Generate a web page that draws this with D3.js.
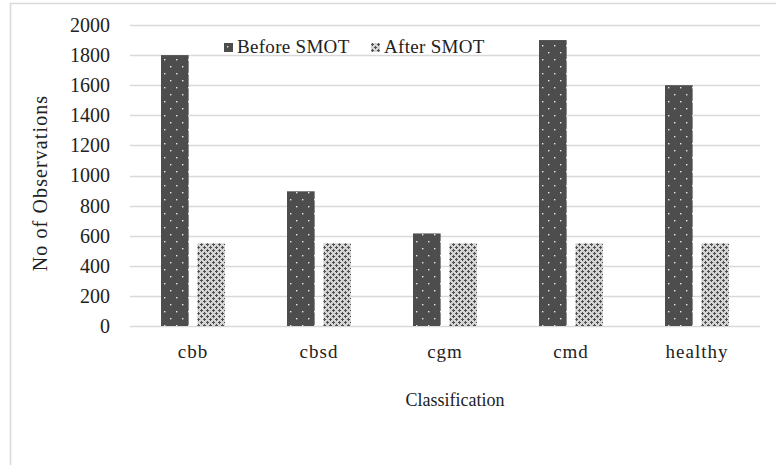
<!DOCTYPE html>
<html>
<head>
<meta charset="utf-8">
<script src="https://cdn.jsdelivr.net/npm/d3@7/dist/d3.min.js"></script>
<style>
  html, body { margin: 0; padding: 0; background: #fff; }
  svg text { font-family: "Liberation Serif", "Times New Roman", serif; fill: #222; }
</style>
</head>
<body>
<svg id="chart" width="776" height="465"></svg>
<script>
// Observation counts per class, before and after SMOTE oversampling
const categories = ["cbb", "cbsd", "cgm", "cmd", "healthy"];
const beforeSmot = [1800, 895, 615, 1900, 1600];
const afterSmot = [550, 550, 550, 550, 550];
const seriesNames = ["Before SMOT", "After SMOT"];
const yTicks = [0, 200, 400, 600, 800, 1000, 1200, 1400, 1600, 1800, 2000];

const svg = d3.select("#chart");
const W = 776, H = 465;
const plot = { left: 130, right: 760, top: 25, bottom: 326 };

// outer frame
svg.append("rect")
  .attr("x", 10.5).attr("y", 3.5)
  .attr("width", W - 8).attr("height", H)
  .attr("fill", "none").attr("stroke", "#d9d9d9").attr("stroke-width", 1.5);

// fill patterns
const defs = svg.append("defs");
const pDark = defs.append("pattern")
  .attr("id", "patBefore").attr("patternUnits", "userSpaceOnUse")
  .attr("width", 12).attr("height", 14);
pDark.append("rect").attr("width", 12).attr("height", 14).attr("fill", "#4d4d4d");
pDark.append("rect").attr("x", 3).attr("y", 3).attr("width", 1.4).attr("height", 1.4).attr("fill", "#e8e8e8");
pDark.append("rect").attr("x", 9).attr("y", 10).attr("width", 1.4).attr("height", 1.4).attr("fill", "#e8e8e8");

// small offset crosses on a grey ground
const pLight = defs.append("pattern")
  .attr("id", "patAfter").attr("patternUnits", "userSpaceOnUse")
  .attr("width", 6).attr("height", 6);
pLight.append("rect").attr("width", 6).attr("height", 6).attr("fill", "#d4d4d4");
[[1.5, 1.5], [4.5, 4.5]].forEach(([cx, cy]) => {
  pLight.append("rect").attr("x", cx - 1.5).attr("y", cy - 0.5).attr("width", 3).attr("height", 1).attr("fill", "#4f4f4f");
  pLight.append("rect").attr("x", cx - 0.5).attr("y", cy - 1.5).attr("width", 1).attr("height", 3).attr("fill", "#4f4f4f");
});

const x0 = d3.scaleBand().domain(categories).range([plot.left, plot.right]).paddingInner(0).paddingOuter(0);
const groupWidth = 64;
const x1 = d3.scaleBand().domain(seriesNames).range([0, groupWidth]).paddingInner(0.24);
const y = d3.scaleLinear().domain([0, 2000]).range([plot.bottom, plot.top]);

// gridlines
svg.append("g").selectAll("line").data(yTicks).join("line")
  .attr("x1", plot.left).attr("x2", plot.right)
  .attr("y1", d => Math.round(y(d)) + 0.5).attr("y2", d => Math.round(y(d)) + 0.5)
  .attr("stroke", "#d9d9d9").attr("stroke-width", 1.5);

// y axis labels
const yAxis = d3.axisLeft(y).tickValues(yTicks).tickFormat(d3.format("d")).tickSize(0).tickPadding(0);
const gy = svg.append("g").attr("transform", `translate(${plot.left - 20},0)`).call(yAxis);
gy.select(".domain").remove();
gy.selectAll("text").attr("font-size", 20).attr("font-family", "Liberation Serif").attr("fill", "#222");

// bars
const rows = categories.map((c, i) => ({ cat: c, vals: [beforeSmot[i], afterSmot[i]] }));
const groups = svg.append("g").selectAll("g").data(rows).join("g")
  .attr("transform", d => `translate(${x0(d.cat) + (x0.bandwidth() - groupWidth) / 2},0)`);
groups.selectAll("rect").data(d => d.vals.map((v, j) => ({ name: seriesNames[j], v })))
  .join("rect")
  .attr("x", d => x1(d.name))
  .attr("width", x1.bandwidth())
  .attr("y", d => y(d.v))
  .attr("height", d => y(0) - y(d.v))
  .attr("fill", d => d.name === seriesNames[0] ? "url(#patBefore)" : "url(#patAfter)");

// x axis labels
const xAxis = d3.axisBottom(x0).tickSize(0).tickPadding(0);
const gx = svg.append("g").attr("transform", `translate(0,${plot.bottom + 18})`).call(xAxis);
gx.select(".domain").remove();
gx.selectAll("text").attr("font-size", 19).attr("letter-spacing", 1)
  .attr("font-family", "Liberation Serif").attr("fill", "#222");

// axis titles
svg.append("text").attr("x", 455).attr("y", 406).attr("text-anchor", "middle")
  .attr("font-size", 18).text("Classification");
svg.append("text").attr("transform", "translate(47,183) rotate(-90)")
  .attr("text-anchor", "middle").attr("font-size", 20).attr("letter-spacing", 1.1)
  .text("No of Observations");

// legend
const legend = [
  { name: seriesNames[0], fill: "url(#patBefore)", x: 224 },
  { name: seriesNames[1], fill: "url(#patAfter)", x: 371 }
];
const lg = svg.append("g").selectAll("g").data(legend).join("g")
  .attr("transform", d => `translate(${d.x},43)`);
lg.append("rect").attr("width", 9).attr("height", 9).attr("fill", d => d.fill);
lg.append("text").attr("x", 13).attr("y", 10).attr("font-size", 19).attr("letter-spacing", 0.3).text(d => d.name);
</script>
</body>
</html>
